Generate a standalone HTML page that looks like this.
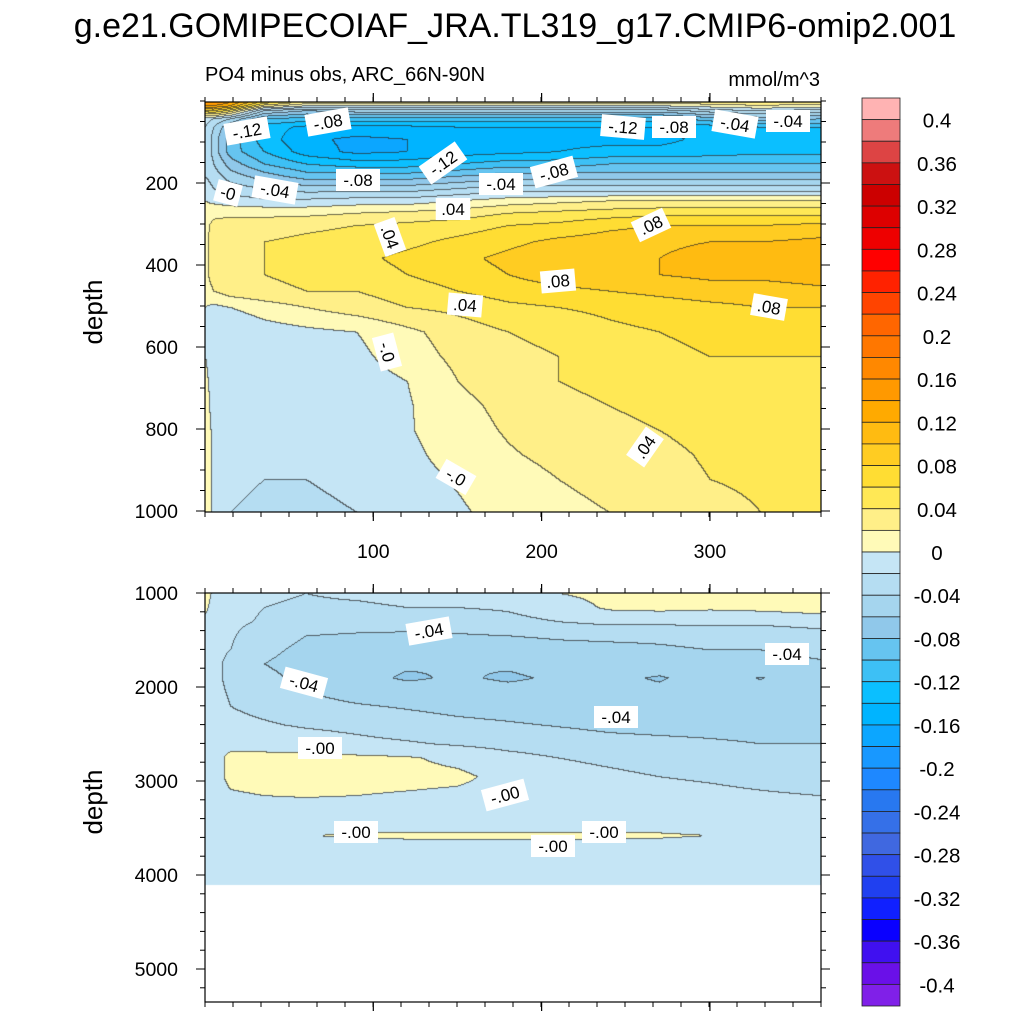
<!DOCTYPE html>
<html><head><meta charset="utf-8">
<style>
html,body{margin:0;padding:0;background:#fff;}
#wrap{position:relative;width:1024px;height:1024px;overflow:hidden;font-family:"Liberation Sans",sans-serif;}
canvas{position:absolute;}
svg{position:absolute;left:0;top:0;}
</style></head>
<body>
<div id="wrap">
<canvas id="ctop" width="616" height="410" style="left:205px;top:102px"></canvas>
<canvas id="cbot" width="616" height="409" style="left:205px;top:593px"></canvas>
<svg id="ov" width="1024" height="1024"></svg>
</div>
<script>
// ---- data ----
const colorbarLevels = [0.4,0.36,0.32,0.28,0.24,0.2,0.16,0.12,0.08,0.04,0,-0.04,-0.08,-0.12,-0.16,-0.2,-0.24,-0.28,-0.32,-0.36,-0.4];
const colorbarLabels = ["0.4","0.36","0.32","0.28","0.24","0.2","0.16","0.12","0.08","0.04","0","-0.04","-0.08","-0.12","-0.16","-0.2","-0.24","-0.28","-0.32","-0.36","-0.4"];
const paletteTopDown = ["#FFB3B3","#EE7B7B","#DD4444","#CC1111","#CC0000","#DD0000","#EE0000","#FF0000","#FF2200","#FF4400","#FF6600","#FF7700","#FF8800","#FF9900","#FFAA00","#FFBB11","#FFCC22","#FFDD33","#FFE855","#FFEF88","#FFFAB8",
"#C5E5F5","#B5DDF2","#A5D5EE","#90C8EA","#66C4F0","#3DC0F5","#0BBFFF","#00B4FF","#0CA6FF","#1898FF","#1E88FF","#2878F0","#3570E8","#4068E0","#3050E8","#2040F0","#1020FF","#0A00FF","#4010F0","#6A10E8","#8020E8"];
const xDays = [0,5,15,35,60,90,120,150,180,210,240,270,300,330,365];
const xTickLabels = ["100","200","300"];
const xTickValues = [100,200,300];
const topTickValues = [200,400,600,800,1000];
const botTickValues = [1000,2000,3000,4000,5000];
const topDepths = [0,8,20,40,60,90,120,150,180,210,240,270,300,340,380,420,460,500,560,620,680,740,800,860,920,1000];
const topValues = [
[0.16,0.16,0.14,0.07,0.03,0.03,0.03,0.03,0.03,0.03,0.03,0.03,0.03,0.03,0.03],
[0.14,0.14,0.12,0.03,0.0,0.0,0.0,0.0,0.0,0.0,0.0,0.0,0.01,0.02,0.01],
[0.07,0.08,0.05,-0.04,-0.06,-0.05,-0.05,-0.05,-0.05,-0.05,-0.05,-0.05,-0.03,-0.02,-0.03],
[-0.01,-0.02,-0.04,-0.10,-0.11,-0.11,-0.11,-0.11,-0.11,-0.11,-0.11,-0.11,-0.09,-0.07,-0.08],
[-0.02,-0.04,-0.08,-0.13,-0.145,-0.145,-0.145,-0.14,-0.14,-0.14,-0.14,-0.14,-0.13,-0.12,-0.12],
[-0.02,-0.05,-0.09,-0.13,-0.155,-0.165,-0.16,-0.155,-0.15,-0.145,-0.145,-0.145,-0.135,-0.125,-0.125],
[-0.02,-0.05,-0.09,-0.12,-0.15,-0.165,-0.16,-0.15,-0.145,-0.14,-0.135,-0.135,-0.13,-0.125,-0.125],
[-0.02,-0.04,-0.07,-0.10,-0.12,-0.13,-0.13,-0.12,-0.11,-0.11,-0.10,-0.10,-0.10,-0.10,-0.10],
[-0.02,-0.03,-0.05,-0.07,-0.09,-0.09,-0.09,-0.08,-0.07,-0.07,-0.07,-0.07,-0.07,-0.07,-0.07],
[-0.01,-0.02,-0.03,-0.04,-0.05,-0.05,-0.05,-0.04,-0.03,-0.03,-0.03,-0.03,-0.03,-0.03,-0.03],
[0.0,-0.005,-0.01,-0.015,-0.015,-0.01,-0.01,0.0,0.01,0.015,0.02,0.02,0.02,0.02,0.02],
[0.01,0.015,0.015,0.015,0.015,0.02,0.025,0.03,0.04,0.045,0.05,0.055,0.055,0.055,0.055],
[0.015,0.025,0.03,0.03,0.035,0.04,0.045,0.05,0.06,0.065,0.075,0.08,0.08,0.08,0.085],
[0.015,0.03,0.035,0.04,0.045,0.05,0.055,0.065,0.075,0.085,0.09,0.095,0.10,0.10,0.105],
[0.015,0.03,0.035,0.04,0.045,0.055,0.065,0.075,0.085,0.095,0.10,0.10,0.11,0.11,0.115],
[0.015,0.03,0.035,0.04,0.045,0.05,0.06,0.07,0.08,0.09,0.095,0.10,0.105,0.105,0.11],
[0.01,0.02,0.03,0.035,0.04,0.04,0.05,0.06,0.07,0.075,0.08,0.085,0.09,0.09,0.095],
[0.0,-0.005,0.0,0.01,0.02,0.03,0.04,0.045,0.055,0.06,0.065,0.07,0.075,0.08,0.08],
[0.0,-0.01,-0.02,-0.01,-0.005,0.0,0.015,0.03,0.04,0.045,0.055,0.06,0.065,0.07,0.07],
[0.0,-0.01,-0.02,-0.02,-0.01,-0.005,0.01,0.025,0.035,0.04,0.05,0.055,0.06,0.06,0.06],
[0.005,-0.01,-0.02,-0.02,-0.015,-0.01,0.0,0.02,0.03,0.04,0.045,0.05,0.055,0.055,0.055],
[0.01,-0.01,-0.015,-0.01,-0.01,-0.01,-0.002,0.015,0.025,0.035,0.04,0.045,0.05,0.05,0.05],
[0.01,-0.005,-0.01,-0.01,-0.01,-0.008,-0.002,0.012,0.022,0.03,0.035,0.04,0.045,0.05,0.05],
[0.01,-0.005,-0.01,-0.01,-0.01,-0.008,-0.005,0.008,0.018,0.025,0.03,0.036,0.042,0.045,0.045],
[0.01,-0.005,-0.015,-0.02,-0.02,-0.015,-0.008,0.002,0.012,0.02,0.025,0.034,0.04,0.042,0.042],
[0.01,-0.005,-0.02,-0.025,-0.025,-0.02,-0.012,-0.003,0.008,0.015,0.02,0.028,0.036,0.04,0.04]];
const botDepths = [1000,1150,1300,1450,1600,1750,1900,2050,2200,2400,2600,2750,2950,3150,3350,3500,3575,3650,3800,4110];
const botValues = [
[0.01,-0.005,-0.01,-0.015,-0.02,-0.015,-0.01,-0.012,-0.01,0.0,0.005,0.005,0.005,0.005,0.01],
[0.005,-0.01,-0.015,-0.02,-0.025,-0.025,-0.02,-0.02,-0.018,-0.01,0.003,0.005,0.003,0.005,0.008],
[-0.005,-0.012,-0.016,-0.022,-0.03,-0.032,-0.03,-0.03,-0.025,-0.02,-0.015,-0.015,-0.015,-0.015,-0.01],
[-0.008,-0.014,-0.018,-0.03,-0.04,-0.042,-0.044,-0.042,-0.04,-0.038,-0.037,-0.037,-0.035,-0.035,-0.03],
[-0.01,-0.015,-0.02,-0.035,-0.045,-0.05,-0.052,-0.05,-0.048,-0.045,-0.044,-0.042,-0.04,-0.04,-0.036],
[-0.01,-0.015,-0.025,-0.04,-0.048,-0.055,-0.058,-0.06,-0.058,-0.055,-0.052,-0.05,-0.046,-0.045,-0.042],
[-0.01,-0.015,-0.025,-0.035,-0.045,-0.055,-0.062,-0.058,-0.062,-0.058,-0.055,-0.062,-0.05,-0.061,-0.048],
[-0.01,-0.015,-0.022,-0.03,-0.04,-0.048,-0.052,-0.055,-0.055,-0.055,-0.055,-0.055,-0.05,-0.052,-0.05],
[-0.01,-0.013,-0.02,-0.025,-0.032,-0.038,-0.042,-0.046,-0.048,-0.05,-0.05,-0.048,-0.048,-0.048,-0.048],
[-0.008,-0.01,-0.015,-0.018,-0.022,-0.025,-0.03,-0.035,-0.038,-0.041,-0.044,-0.045,-0.045,-0.045,-0.045],
[-0.006,-0.008,-0.005,-0.008,-0.01,-0.015,-0.018,-0.022,-0.026,-0.03,-0.034,-0.036,-0.038,-0.04,-0.04],
[-0.005,-0.006,0.004,0.006,0.006,0.004,0.002,-0.005,-0.014,-0.02,-0.024,-0.028,-0.03,-0.033,-0.035],
[-0.005,-0.006,0.004,0.007,0.008,0.007,0.006,0.004,-0.006,-0.012,-0.016,-0.02,-0.022,-0.025,-0.028],
[-0.005,-0.006,-0.002,0.0,0.001,0.0,-0.002,-0.004,-0.007,-0.01,-0.012,-0.014,-0.016,-0.018,-0.02],
[-0.005,-0.006,-0.008,-0.009,-0.009,-0.01,-0.01,-0.01,-0.01,-0.01,-0.01,-0.01,-0.012,-0.013,-0.014],
[-0.005,-0.006,-0.008,-0.008,-0.006,-0.005,-0.004,-0.004,-0.004,-0.004,-0.004,-0.005,-0.008,-0.01,-0.012],
[-0.005,-0.006,-0.008,-0.006,-0.001,0.003,0.004,0.004,0.004,0.004,0.004,0.003,0.0,-0.006,-0.01],
[-0.005,-0.006,-0.008,-0.008,-0.006,-0.005,-0.004,-0.004,-0.004,-0.004,-0.004,-0.005,-0.008,-0.01,-0.012],
[-0.005,-0.006,-0.008,-0.009,-0.009,-0.01,-0.01,-0.01,-0.01,-0.01,-0.01,-0.01,-0.01,-0.01,-0.01],
[-0.005,-0.006,-0.008,-0.008,-0.008,-0.008,-0.008,-0.008,-0.008,-0.008,-0.008,-0.008,-0.008,-0.008,-0.008]];
const topLabelText = ["-.12","-.08","-.12","-.08","-0","-.04","-.04","-.08",".04",".04","-.12","-.08","-.04","-.04",".08",".08",".08",".04","-.0","-.0",".04"];
const botLabelText = ["-.04","-.04","-.04","-.04","-.00","-.00","-.00","-.00","-.00"];

// ---- geometry ----
const PX0=205, PW=616, TOPY=102, TOPH=410, BOTY=593, BOTH=409;
const XMAX=366;
function xScale(d){return PX0 + d/XMAX*PW;}
function yTop(d){return 101 + d*0.41;}
function yBot(d){return 593 + (d-1000)*0.094;}

function findIdx(arr,v){let i=0;while(i<arr.length-2 && v>arr[i+1])i++;return i;}
function interp(xs,ys,vals,x,y){
  const i=findIdx(xs,x), j=findIdx(ys,y);
  let tx=(x-xs[i])/(xs[i+1]-xs[i]); let ty=(y-ys[j])/(ys[j+1]-ys[j]);
  tx=Math.max(0,Math.min(1,tx)); ty=Math.max(0,Math.min(1,ty));
  const a=vals[j][i],b=vals[j][i+1],c=vals[j+1][i],d=vals[j+1][i+1];
  return (a*(1-tx)+b*tx)*(1-ty)+(c*(1-tx)+d*tx)*ty;
}
function binOf(v){let k=Math.floor((v+0.4)/0.02+1e-9)+1;return Math.max(0,Math.min(41,k));}
function hex(c){return [parseInt(c.substr(1,2),16),parseInt(c.substr(3,2),16),parseInt(c.substr(5,2),16)];}
const rgbTD = paletteTopDown.map(hex);

function drawField(cv,W,H,valFn){
  const ctx=cv.getContext('2d'); const img=ctx.createImageData(W,H);
  const bins=new Int16Array(W*H);
  for(let py=0;py<H;py++)for(let px=0;px<W;px++){
    const v=valFn(px,py); bins[py*W+px]= v===null?-1:binOf(v);
  }
  for(let py=0;py<H;py++)for(let px=0;px<W;px++){
    const b=bins[py*W+px]; const o=(py*W+px)*4;
    if(b<0){img.data[o]=255;img.data[o+1]=255;img.data[o+2]=255;img.data[o+3]=255;continue;}
    let c=rgbTD[41-b];
    let edge=false;
    if(px>0 && bins[py*W+px-1]>=0 && bins[py*W+px-1]!==b) edge=true;
    if(py>0 && bins[(py-1)*W+px]>=0 && bins[(py-1)*W+px]!==b) edge=true;
    if(edge){c=[c[0]*0.3+30,c[1]*0.3+30,c[2]*0.3+30];}
    img.data[o]=c[0];img.data[o+1]=c[1];img.data[o+2]=c[2];img.data[o+3]=255;
  }
  ctx.putImageData(img,0,0);
}
drawField(document.getElementById('ctop'),PW,TOPH,(px,py)=>{
  const d=(px+0.5)/PW*XMAX, z=(py+0.5)/TOPH*1000;
  return interp(xDays,topDepths,topValues,d,z);
});
drawField(document.getElementById('cbot'),PW,BOTH,(px,py)=>{
  const d=(px+0.5)/PW*XMAX, z=1000+(py+0.5)/94*1000;
  if(z>4110) return null;
  return interp(xDays,botDepths,botValues,d,z);
});

// ---- overlay ----
const NS="http://www.w3.org/2000/svg";
const svg=document.getElementById('ov');
function el(tag,attrs,parent){const e=document.createElementNS(NS,tag);for(const k in attrs)e.setAttribute(k,attrs[k]);(parent||svg).appendChild(e);return e;}
function txt(s,x,y,size,anchor,name,rot){
  const t=el('text',{x:x,y:y,'font-size':size,'text-anchor':anchor||'middle','font-family':'Liberation Sans, sans-serif',fill:'#000'});
  if(rot)t.setAttribute('transform','rotate('+rot+' '+x+' '+y+')');
  t.textContent=s;
  
  
  return t;
}
txt("g.e21.GOMIPECOIAF_JRA.TL319_g17.CMIP6-omip2.001",515,37,34,'middle','main-title');
txt("PO4 minus obs, ARC_66N-90N",205,81,20,'start','subtitle');
txt("mmol/m^3",820,86,20,'end','units-label');
txt("depth",102,312,26,'middle','upper-y-axis-title',-90);
txt("depth",102,802,26,'middle','lower-y-axis-title',-90);

function panelAxes(y0,h,prefix,yFn,majors,minorStep,dmin,dmax,showX){
  const g=el('g',{});
  
  
  el('rect',{x:PX0,y:y0,width:PW,height:h,fill:'none',stroke:'#000','stroke-width':1.2},g);
  for(let k=0;k*28<=PW+1;k++){
    const x=PX0+k*28;
    el('line',{x1:x,y1:y0+h,x2:x,y2:y0+h+5,stroke:'#000','stroke-width':1},g);
    el('line',{x1:x,y1:y0,x2:x,y2:y0-5,stroke:'#000','stroke-width':1},g);
  }
  xTickValues.forEach((v,i)=>{
    const x=xScale(v);
    el('line',{x1:x,y1:y0+h,x2:x,y2:y0+h+9,stroke:'#000','stroke-width':1.2},g);
    el('line',{x1:x,y1:y0,x2:x,y2:y0-9,stroke:'#000','stroke-width':1.2},g);
    if(showX) txt(xTickLabels[i],x,y0+h+46,19.5,'middle','x-tick-label-'+v);
  });
  for(let d=dmin;d<=dmax+1e-6;d+=minorStep){
    const y=yFn(d); if(y>y0+h+0.5)break;
    const major=majors.includes(Math.round(d));
    const L=major?9:5;
    el('line',{x1:PX0,y1:y,x2:PX0-L,y2:y,stroke:'#000','stroke-width':1},g);
    el('line',{x1:PX0+PW,y1:y,x2:PX0+PW+L,y2:y,stroke:'#000','stroke-width':1},g);
  }
  majors.forEach(v=>{const y=yFn(v); if(y<=y0+h+1) txt(String(v),178,y+7,19.5,'end',prefix+'-y-tick-'+v);});
}
panelAxes(TOPY,TOPH,'upper',yTop,topTickValues,50,0,1000,true);
panelAxes(BOTY,BOTH,'lower',yBot,botTickValues,200,1000,5400,false);

const topLabelPos=[[247,131,-10],[328,122,-10],[443,163,-35],[358,180,0],[228,193,15],[275,190,10],[501,184,0],[554,172,-15],[453,209,0],[390,237,70],[623,127,5],[674,127,0],[735,124,10],[788,121,0],[651,225,-25],[558,281,-5],[769,307,10],[465,305,5],[387,352,75],[456,477,30],[645,447,-55]];
const botLabelPos=[[429,631,-10],[787,654,0],[304,683,15],[616,717,0],[320,748,0],[505,795,-15],[356,832,0],[604,832,0],[553,846,0]];
function clabel(s,p,name){
  const g=el('g',{transform:'translate('+p[0]+' '+p[1]+') rotate('+p[2]+')'});
  
  
  const w=s.length*9.5+6;
  el('rect',{x:-w/2,y:-11,width:w,height:22,fill:'#fff'},g);
  const t=el('text',{x:0,y:6,'font-size':17,'text-anchor':'middle','font-family':'Liberation Sans, sans-serif'},g);
  t.textContent=s;
}
topLabelText.forEach((s,i)=>clabel(s,topLabelPos[i],'upper-contour-label'));
botLabelText.forEach((s,i)=>clabel(s,botLabelPos[i],'lower-contour-label'));

const cb=el('g',{});


const bh=908/42;
paletteTopDown.forEach((c,i)=>{
  const r=el('rect',{x:862,y:98+i*bh,width:38,height:bh,fill:c,stroke:'#222','stroke-width':0.8},cb);
  
  
});
colorbarLevels.forEach((v,i)=>{
  const y=553 - v/0.04*43.24;
  txt(colorbarLabels[i],937,y+7,20.5,'middle','colorbar-label');
});
</script>
</body></html>
